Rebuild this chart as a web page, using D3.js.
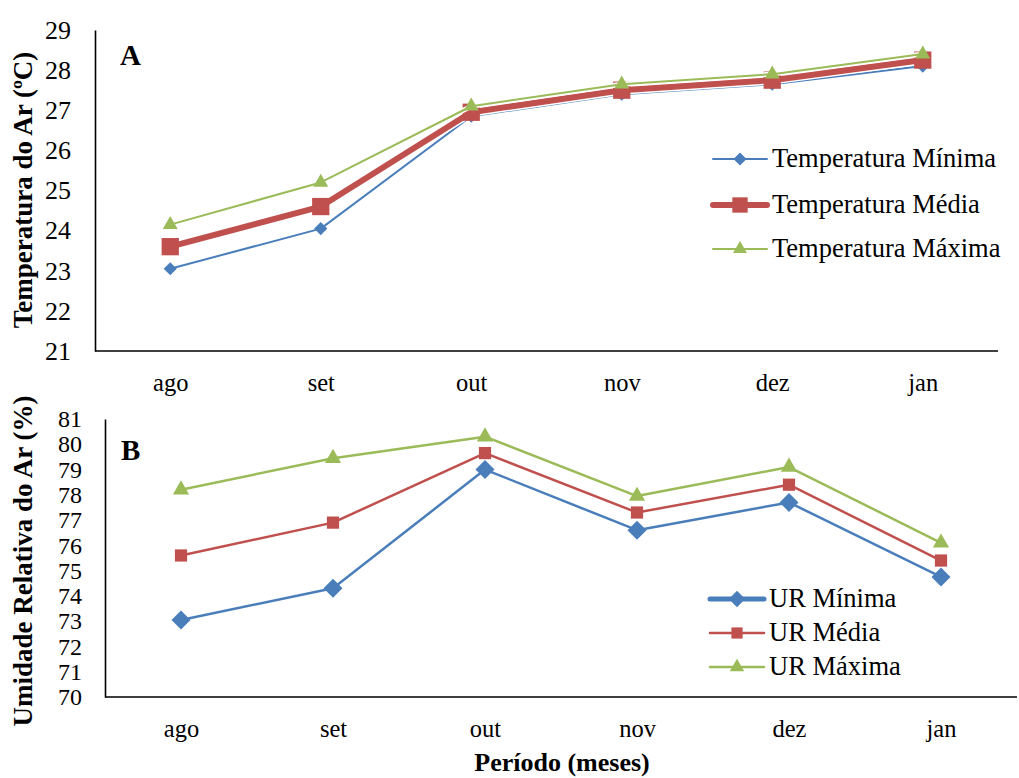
<!DOCTYPE html>
<html>
<head>
<meta charset="utf-8">
<script src="https://cdn.jsdelivr.net/npm/d3@7"></script>
<style>
  body { margin: 0; background: #fff; }
  text { font-family: "Liberation Serif", "Times New Roman", serif; fill: #000; }
</style>
</head>
<body>
<svg width="1019" height="778"></svg>
<script>
var meses = ["ago", "set", "out", "nov", "dez", "jan"]

// painel A - temperatura do ar
var tempMin = [23.05, 24.05, 26.85, 27.4, 27.65, 28.1]
var tempMed = [23.6, 24.6, 26.95, 27.5, 27.75, 28.25]
var tempMax = [24.15, 25.2, 27.1, 27.65, 27.9, 28.4]
var tempTicks = [21, 22, 23, 24, 25, 26, 27, 28, 29]

// painel B - umidade relativa
var urMin = [73.05, 74.3, 79.0, 76.6, 77.7, 74.75]
var urMed = [75.6, 76.9, 79.65, 77.3, 78.4, 75.4]
var urMax = [78.2, 79.45, 80.3, 77.95, 79.1, 76.1]
var urTicks = [70, 71, 72, 73, 74, 75, 76, 77, 78, 79, 80, 81]

var blue = "#4a7ebb", red = "#c0504d", green = "#9bbb59"

var svg = d3.select("svg")

function symbolFor(kind, size) {
    var t = kind == "diamond" ? d3.symbolDiamond2 : kind == "square" ? d3.symbolSquare2 : d3.symbolTriangle2
    return d3.symbol().type(t).size(size)()
}

function panel(cfg) {
    var x = d3.scalePoint().domain(meses).range(cfg.xr).padding(0.5)
    var y = d3.scaleLinear().domain(cfg.ydom).range(cfg.yr)
    var g = svg.append("g")

    g.append("g")
        .attr("transform", "translate(" + cfg.xr[0] + ",0)")
        .call(d3.axisLeft(y).tickValues(cfg.ticks).tickSize(0).tickPadding(cfg.tickPad))
        .call(function(a) {
            a.select(".domain").attr("stroke", "#000").attr("stroke-width", 1.6)
            a.selectAll("text").attr("font-size", cfg.tickFont).attr("font-family", "Liberation Serif")
        })
    g.append("g")
        .attr("transform", "translate(0," + cfg.yr[0] + ")")
        .call(d3.axisBottom(x).tickSize(0).tickPadding(cfg.xPad))
        .call(function(a) {
            a.select(".domain").attr("stroke", "#000").attr("stroke-width", 1.6)
                .attr("d", "M" + cfg.xr[0] + ",0H" + cfg.xr[1])
            a.selectAll("text").attr("font-size", 24.5).attr("font-family", "Liberation Serif")
        })

    var line = d3.line().x(function(d, i) { return x(meses[i]) }).y(function(d) { return y(d) })

    cfg.series.forEach(function(s) {
        if (cfg.halo) {
            g.append("path").attr("d", line(s.values)).attr("fill", "none")
                .attr("stroke", "#fff").attr("stroke-width", s.width + 3).attr("stroke-linejoin", "round")
        }
        g.append("path").attr("d", line(s.values)).attr("fill", "none")
            .attr("stroke", s.color).attr("stroke-width", s.width).attr("stroke-linejoin", "round")
        g.selectAll(null).data(s.values).enter().append("path")
            .attr("d", symbolFor(s.shape, s.size))
            .attr("transform", function(d, i) { return "translate(" + x(meses[i]) + "," + y(d) + ")" })
            .attr("fill", s.color)
    })

    // legenda
    cfg.series.forEach(function(s, i) {
        var ly = cfg.legY[i]
        g.append("line").attr("x1", cfg.legX).attr("x2", cfg.legX + 54)
            .attr("y1", ly).attr("y2", ly).attr("stroke", s.color).attr("stroke-width", s.legWidth)
            .attr("stroke-linecap", "round")
        g.append("path").attr("d", symbolFor(s.shape, s.legSize))
            .attr("transform", "translate(" + (cfg.legX + 27) + "," + ly + ")").attr("fill", s.color)
        g.append("text").attr("x", cfg.legX + 59).attr("y", ly + 8)
            .attr("font-size", 26.5).text(s.name)
    })

    g.append("text").attr("x", cfg.letter[0]).attr("y", cfg.letter[1])
        .attr("font-size", 29).attr("font-weight", "bold").text(cfg.letterText)

    g.append("text")
        .attr("transform", "translate(" + cfg.ytitle[0] + "," + cfg.ytitle[1] + ") rotate(-90)")
        .attr("text-anchor", "middle").attr("font-size", 27).attr("font-weight", "bold")
        .text(cfg.ytitleText)
}

panel({
    xr: [95, 998], yr: [351, 30], ydom: [21, 29], ticks: tempTicks, tickPad: 24, xPad: 23, tickFont: 26,
    halo: true,
    series: [
        { name: "Temperatura Mínima", values: tempMin, color: blue, width: 2, shape: "diamond", size: 110, legWidth: 2, legSize: 110 },
        { name: "Temperatura Média", values: tempMed, color: red, width: 6, shape: "square", size: 380, legWidth: 6, legSize: 300 },
        { name: "Temperatura Máxima", values: tempMax, color: green, width: 2, shape: "triangle", size: 160, legWidth: 2, legSize: 140 }
    ],
    legX: 713, legY: [159, 205, 249],
    letter: [120, 65], letterText: "A",
    ytitle: [32, 190], ytitleText: "Temperatura do Ar (ºC)"
})

panel({
    xr: [105, 1017], yr: [697, 419], ydom: [70, 81], ticks: urTicks, tickPad: 23, xPad: 23, tickFont: 24,
    halo: false,
    series: [
        { name: "UR Mínima", values: urMin, color: blue, width: 2.5, shape: "diamond", size: 230, legWidth: 5, legSize: 170 },
        { name: "UR Média", values: urMed, color: red, width: 2.5, shape: "square", size: 190, legWidth: 2.5, legSize: 160 },
        { name: "UR Máxima", values: urMax, color: green, width: 2.5, shape: "triangle", size: 190, legWidth: 2.5, legSize: 150 }
    ],
    legX: 710, legY: [599, 633, 667],
    letter: [121, 460], letterText: "B",
    ytitle: [32, 561], ytitleText: "Umidade Relativa do Ar (%)"
})

svg.append("text").attr("x", 562).attr("y", 771).attr("text-anchor", "middle")
    .attr("font-size", 26).attr("font-weight", "bold").text("Período (meses)")
</script>
</body>
</html>
